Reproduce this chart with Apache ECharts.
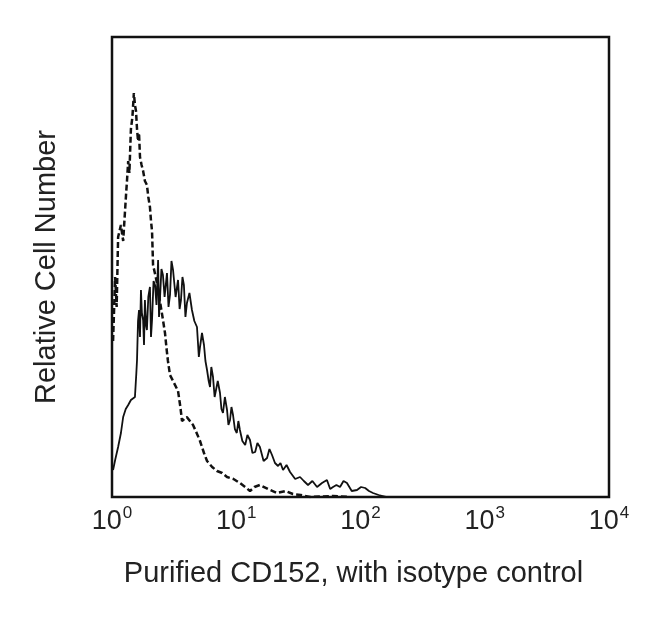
<!DOCTYPE html>
<html>
<head>
<meta charset="utf-8">
<script src="https://cdn.jsdelivr.net/npm/echarts@6/dist/echarts.min.js"></script>
<style>html,body{margin:0;padding:0;background:#fff;}#c{width:650px;height:622px;}</style>
</head>
<body>
<div id="c"></div>
<script>
// Fluorescence intensity (log scale) and relative cell counts
const cd152X = [1.02,1.06,1.12,1.18,1.23,1.29,1.35,1.42,1.53,1.57,1.59,1.62,1.65,1.68,1.71,1.74,1.78,1.81,1.84,1.88,1.91,1.96,2.02,2.06,2.10,2.16,2.22,2.28,2.35,2.39,2.43,2.50,2.57,2.65,2.77,2.85,2.93,3.01,3.10,3.25,3.40,3.50,3.59,3.69,3.79,3.90,4.01,4.20,4.40,4.60,4.83,5.0,5.11,5.30,5.50,5.65,5.82,6.0,6.15,6.30,6.50,6.70,6.87,7.10,7.40,7.60,7.82,8.10,8.43,8.65,8.91,9.15,9.42,9.75,10.1,10.4,10.7,11.2,11.8,12.3,12.9,13.5,14.2,14.8,15.5,16.6,17.7,18.5,19.4,20.5,21.7,22.7,23.8,25.4,27.1,29.8,32.6,35,37.8,41,44.7,49,53.7,57,60.1,64,68.4,73,77.8,85,93.7,101,109,117,126,140,163];
const cd152Y = [13.5,18.5,25,32,40,44,46,48.5,50,62,68.5,88,93.5,80,103.5,92,88.5,76,98.5,86,83.5,100,105,80,88.5,108,106,96,118.5,90,98.5,114,111,100,112,95,101,118,113.5,100,108.5,94,98.5,110,106,90,97,102,93.5,88,85,70,75,82,76,68,63.5,58,55,65,60,50,51,58,52,44,42,50,43.5,36,38.5,45,41,34,32,38,33.5,28,26,31,28.5,22,22.5,27,25,18,19.5,24,21,17,15.5,17,13.5,16,12.5,9,10,8,6,8,5,7,8.5,4,5,6,5,8,7,3,3.5,5,4.5,3,2,1,0];
const isoX = [1.02,1.06,1.09,1.12,1.18,1.23,1.27,1.30,1.32,1.35,1.38,1.42,1.46,1.50,1.53,1.56,1.59,1.62,1.65,1.68,1.73,1.78,1.84,1.91,1.96,2.02,2.06,2.10,2.14,2.25,2.35,2.43,2.55,2.67,2.75,2.82,2.93,3.10,3.40,3.55,3.66,4.0,4.49,4.8,5.11,5.5,5.82,6.4,7.0,7.7,8.43,9.5,10.7,11.8,12.9,14,15.5,18,21.3,25,28.6,33,39.3,60,82];
const isoY = [78,110,95,130,136,128,142,152,158,168,162,184,190,202,196,193,184,178,182,170,166,163,158,156,150,145,138,133,116,110,104,98,90,82,74,68,61,58,53,45,38,40,36,32,28,22,18,15,13,12,10,9,7,5,3,5,6,4,2,3,1.5,1,0,0.5,0];
const xTicks = [1, 10, 100, 1000, 10000];
const xTitle = 'Purified CD152, with isotype control';
const yTitle = 'Relative Cell Number';

const zip = (a, b) => a.map((v, i) => [v, b[i]]);
const chart = echarts.init(document.getElementById('c'), null, {renderer: 'canvas'});
chart.setOption({
  animation: false,
  backgroundColor: '#fff',
  grid: {left: 112, right: 41, top: 37, bottom: 125, show: true, borderColor: '#111', borderWidth: 2.5, backgroundColor: 'transparent'},
  xAxis: {
    type: 'log', logBase: 10, min: xTicks[0], max: xTicks[xTicks.length - 1],
    name: xTitle, nameLocation: 'middle', nameGap: 62,
    nameTextStyle: {fontFamily: 'Liberation Sans', fontSize: 29, color: '#222', padding: [0, 14, 0, 0]},
    axisLine: {show: false}, axisTick: {show: false}, splitLine: {show: false},
    axisLabel: {
      margin: 8,
      formatter: v => '{b|10}{s|' + Math.round(Math.log10(v)) + '}',
      rich: {
        b: {fontFamily: 'Liberation Sans', fontSize: 27, color: '#222', verticalAlign: 'bottom', lineHeight: 30},
        s: {fontFamily: 'Liberation Sans', fontSize: 17, color: '#222', verticalAlign: 'top', lineHeight: 30, padding: [0, 0, 13, 1]}
      }
    }
  },
  yAxis: {
    type: 'value', min: 0, max: 230,
    name: yTitle, nameLocation: 'middle', nameGap: 51,
    nameTextStyle: {fontFamily: 'Liberation Sans', fontSize: 29, color: '#222'},
    axisLine: {show: false}, axisTick: {show: false}, splitLine: {show: false}, axisLabel: {show: false}
  },
  series: [
    {type: 'line', data: zip(isoX, isoY), showSymbol: false, symbol: 'none',
     lineStyle: {color: '#111', width: 2.5, type: [6, 3]}},
    {type: 'line', data: zip(cd152X, cd152Y), showSymbol: false, symbol: 'none',
     lineStyle: {color: '#111', width: 1.8}}
  ]
});
</script>
</body>
</html>
